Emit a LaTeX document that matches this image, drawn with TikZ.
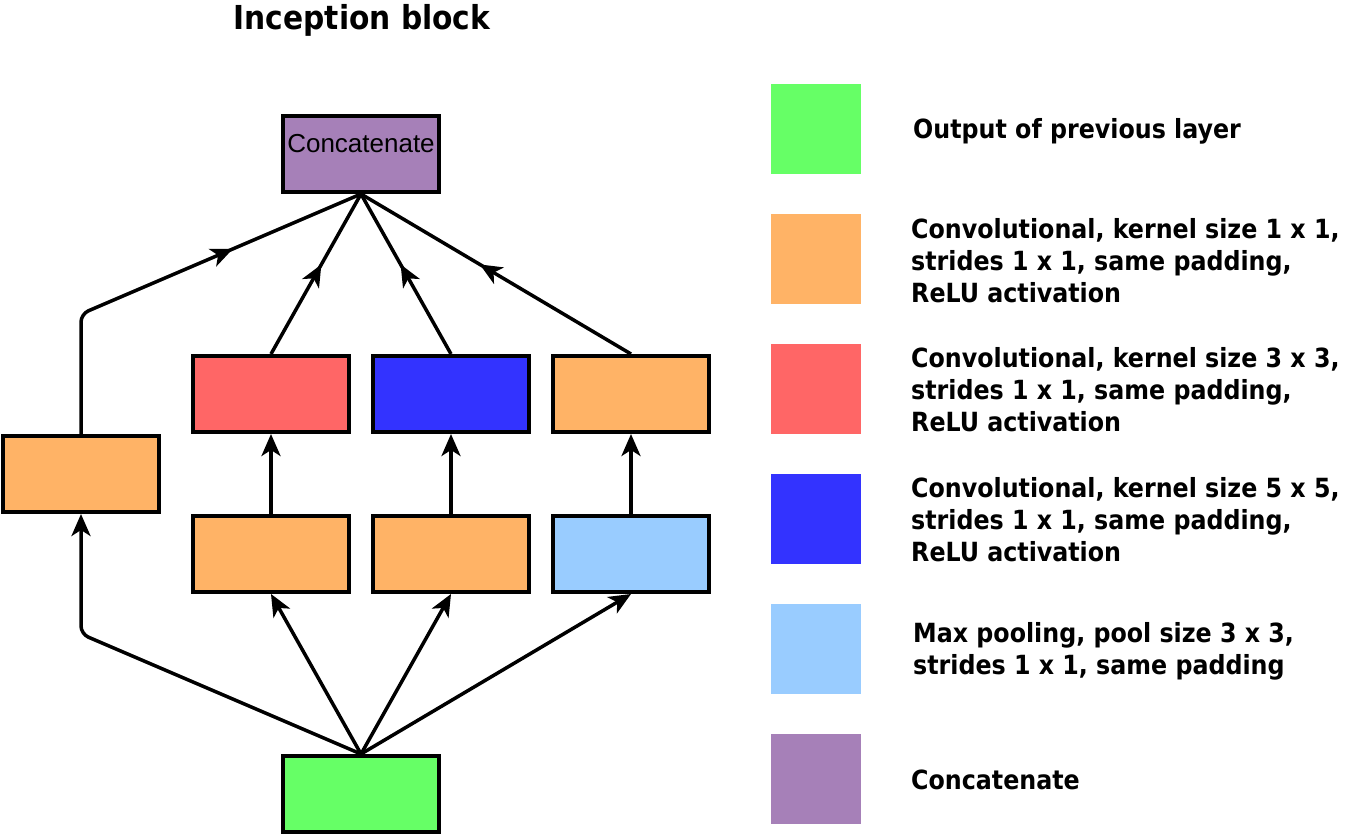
\documentclass[tikz,border=0pt]{standalone}
\usepackage{fontspec}
\setmainfont{Liberation Sans}
\newfontfamily\keyfont{DejaVu Sans Condensed}
\usepackage{tikz}
\usetikzlibrary{arrows.meta}
\usetikzlibrary{decorations.markings}

\definecolor{cGreen}{RGB}{102,255,102}
\definecolor{cOrange}{RGB}{255,179,102}
\definecolor{cRed}{RGB}{255,102,102}
\definecolor{cBlue}{RGB}{51,51,255}
\definecolor{cSky}{RGB}{153,204,255}
\definecolor{cPurple}{RGB}{166,128,184}

\begin{document}
\begin{tikzpicture}[x=1pt,y=1pt,yscale=-1,
    layer/.style={draw=black,line width=4pt,minimum width=156pt,minimum height=76pt,inner sep=0pt},
    key/.style={minimum width=90pt,minimum height=90pt,inner sep=0pt},
    keytext/.style={anchor=west,align=left,inner sep=0pt,font=\keyfont\bfseries\fontsize{26.4}{32}\selectfont},
    link/.style={line width=3.5pt,-{Stealth[length=22pt,width=19pt,inset=6pt]}},
    midarrow/.style={line width=3.5pt,postaction={decorate},
        decoration={markings,mark=at position #1 with {\arrow{Stealth[length=22pt,width=19pt,inset=6pt]}}}},
    midarrow/.default=0.56]
    \useasboundingbox (0,0) rectangle (1352,836);

    % Title
    \node[font=\keyfont\bfseries\fontsize{33}{38}\selectfont] (title) at (362,20) {Inception block};

    %Shape: Rectangle (layers)
    \node[layer,fill=cPurple] (cat) at (361,154) {};
    \node[font=\fontsize{26}{30}\selectfont] (cattext) at (361,144) {Concatenate};
    \node[layer,fill=cRed] (conv3) at (271,394) {};
    \node[layer,fill=cBlue] (conv5) at (451,394) {};
    \node[layer,fill=cOrange] (convp) at (631,394) {};
    \node[layer,fill=cOrange] (conv1) at (81,474) {};
    \node[layer,fill=cOrange] (red3) at (271,554) {};
    \node[layer,fill=cOrange] (red5) at (451,554) {};
    \node[layer,fill=cSky] (pool) at (631,554) {};
    \node[layer,fill=cGreen] (prev) at (361,794) {};

    \coordinate (lowbend) at (81,634);
    \coordinate (highbend) at (81,314);

    %Straight Lines (input to branches)
    \draw[link] (prev.north) -- (red3.south);
    \draw[link] (prev.north) -- (red5.south);
    \draw[link] (prev.north) -- (pool.south);
    \draw[link,rounded corners=8pt] (prev.north) -- (lowbend) -- (conv1.south);
    \draw[link] (red3.north) -- (conv3.south);
    \draw[link] (red5.north) -- (conv5.south);
    \draw[link] (pool.north) -- (convp.south);

    %Straight Lines (branches to concatenation)
    \draw[midarrow] (conv3.north) -- (cat.south);
    \draw[midarrow] (conv5.north) -- (cat.south);
    \draw[midarrow] (convp.north) -- (cat.south);
    \draw[midarrow=0.67,rounded corners=8pt] (conv1.north) -- (highbend) -- (cat.south);

    %Shape: Square (legend)
    \foreach \col [count=\i] in {cGreen,cOrange,cRed,cBlue,cSky,cPurple}
        \node[key,fill=\col] (key\i) at (816,{129+130*(\i-1)}) {};

    % Text Node
    \node[keytext] (keytext1) at (913,131) {Output of previous layer};
    \node[keytext] (keytext2) at (911,261) {Convolutional, kernel size 1 x 1,\\strides 1 x 1, same padding,\\ReLU activation};
    \node[keytext] (keytext3) at (911,390) {Convolutional, kernel size 3 x 3,\\strides 1 x 1, same padding,\\ReLU activation};
    \node[keytext] (keytext4) at (911,520) {Convolutional, kernel size 5 x 5,\\strides 1 x 1, same padding,\\ReLU activation};
    \node[keytext] (keytext5) at (913,651) {Max pooling, pool size 3 x 3,\\strides 1 x 1, same padding};
    \node[keytext] (keytext6) at (911,780) {Concatenate};
\end{tikzpicture}
\end{document}
